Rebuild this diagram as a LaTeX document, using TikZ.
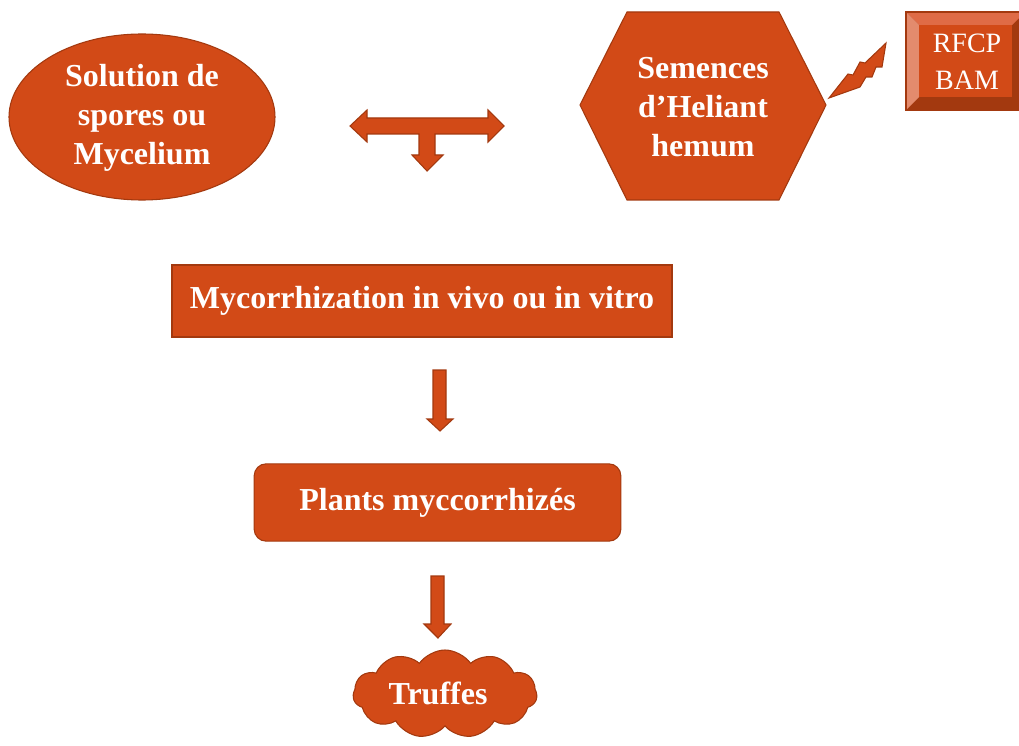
\documentclass[tikz,border=0pt]{standalone}
\usepackage{fontspec}
\setmainfont{Liberation Serif}
\usetikzlibrary{shapes.geometric,shapes.symbols,calc}
\definecolor{rouille}{HTML}{D24A17}
\definecolor{rouillesombre}{HTML}{A3390F}
\definecolor{rouilleclair}{HTML}{DF6B46}
\definecolor{rouillepale}{HTML}{E38B6D}

\begin{document}
\begin{tikzpicture}[x=0.75pt,y=-0.75pt,
    forme/.style={fill=rouille,draw=rouillesombre,line width=0.8pt},
    texte/.style={text=white,font=\bfseries\fontsize{24}{29}\selectfont,align=center,inner sep=0pt},
    fleche/.style={forme,line join=miter}]
    \useasboundingbox (0,0) rectangle (1019,745);

    % sources
    \node[forme,ellipse,minimum width=199.5pt,minimum height=124.5pt] (spores) at (142,117) {};
    \node[texte] (sporestxt) at (142,118) {Solution de\\spores ou\\Mycelium};
    \draw[forme] (580,105)--(627,12)--(779,12)--(826,105)--(779,200)--(627,200)--cycle;
    \node[texte] (semences) at (703,107) {Semences\\d'Heliant\\hemum};

    % RFCP BAM
    \fill[rouillesombre] (906,12) rectangle (1025,110);
    \fill[rouilleclair] (906,12)--(1025,12)--(1012,25)--(919,25)--cycle;
    \fill[rouillepale] (906,12)--(919,25)--(919,97)--(906,110)--cycle;
    \fill[rouille] (919,25) rectangle (1012,97);
    \draw[rouillesombre,line width=0.8pt] (906,12) rectangle (1025,110);
    \node[texte,font=\fontsize{21}{28}\selectfont] (rfcp) at (967,62) {RFCP\\BAM};
    \draw[fleche] (829,98)--(848,74)--(853,75)--(860,62)--(865,63)--(886,43)--(882,67)--(876,67)--(872,77)--(866,77)--(860,87)--cycle;

    % fleche en T
    \draw[fleche] (350,126)--(367,110)--(367,118)--(488,118)--(488,110)--(504,126)--(488,142)--(488,134)
        --(435,134)--(435,155)--(443,155)--(427,171)--(412,155)--(419,155)--(419,134)--(367,134)--(367,142)--cycle;

    \node[forme,texte,minimum width=375pt,minimum height=54pt] (myco) at (422,301) {Mycorrhization in vivo ou in vitro};
    \draw[fleche] (433,370)--(446,370)--(446,419)--(453,419)--(440,431)--(427,419)--(433,419)--cycle;

    \node[forme,texte,rounded corners=9pt,minimum width=275pt,minimum height=58pt] (plants) at (437.5,502.5) {Plants myccorrhizés};
    \draw[fleche] (431,576)--(444,576)--(444,624)--(451,624)--(438,638)--(424,624)--(431,624)--cycle;

    \node[forme,cloud,cloud puffs=11,cloud puff arc=110,cloud ignores aspect,minimum width=138pt,minimum height=66pt,inner sep=0pt] (truffes) at (445,694) {};
    \node[texte] at (438,693) {Truffes};
\end{tikzpicture}
\end{document}
